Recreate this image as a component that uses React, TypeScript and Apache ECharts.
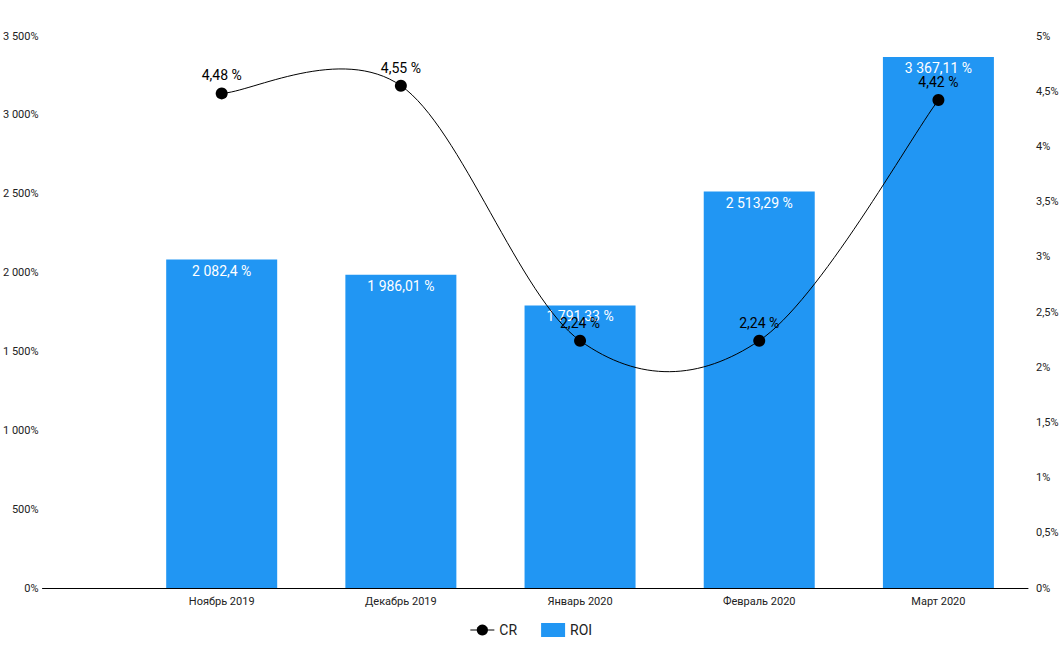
import React, { useEffect, useRef } from "react";
import * as echarts from "echarts";

const categories = ["Ноябрь 2019", "Декабрь 2019", "Январь 2020", "Февраль 2020", "Март 2020"];
const roiValues = [2082.4, 1986.01, 1791.33, 2513.29, 3367.11];
const crValues = [4.48, 4.55, 2.24, 2.24, 4.42];

const fmtNum = (v: number) => {
  const parts = String(v).split(".");
  const int = parts[0].replace(/\B(?=(\d{3})+(?!\d))/g, " ");
  return parts[1] ? int + "," + parts[1] : int;
};

export default function App() {
  const ref = useRef<HTMLDivElement>(null);
  useEffect(() => {
    if (!ref.current) return;
    document.body.style.margin = "0";
    const chart = echarts.init(ref.current, null, { renderer: "svg" });
    const font = "Roboto";
    chart.setOption({
      animation: false,
      textStyle: { fontFamily: font },
      grid: { left: 42, right: 34, top: 36, bottom: 79, containLabel: false },
      legend: {
        bottom: 25,
        left: "center",
        itemGap: 24,
        itemWidth: 24,
        itemHeight: 14,
        textStyle: { fontSize: 14, color: "#222", fontFamily: font },
        data: [
          { name: "CR", lineStyle: { width: 1, color: "#000", opacity: 1 } },
          { name: "ROI", icon: "rect", itemWidth: 26 },
        ],
      },
      xAxis: {
        type: "value",
        min: -1,
        max: 4.5,
        interval: 1,
        splitLine: { show: false },
        axisTick: { show: false },
        axisLine: { show: true, onZero: false, lineStyle: { color: "#000", width: 1 } },
        axisLabel: {
          fontSize: 11,
          color: "#222",
          margin: 8,
          showMaxLabel: false,
          formatter: (v: number) => (Number.isInteger(v) && v >= 0 && v < categories.length ? categories[v] : ""),
        },
      },
      yAxis: [
        {
          type: "value",
          min: 0,
          max: 3500,
          interval: 500,
          splitLine: { show: false },
          axisLine: { show: false },
          axisTick: { show: false },
          axisLabel: { fontSize: 11, color: "#222", margin: 4, formatter: (v: number) => fmtNum(v) + "%" },
        },
        {
          type: "value",
          min: 0,
          max: 5,
          interval: 0.5,
          splitLine: { show: false },
          axisLine: { show: false },
          axisTick: { show: false },
          axisLabel: { fontSize: 11, color: "#222", margin: 8, formatter: (v: number) => fmtNum(v) + "%" },
        },
      ],
      series: [
        {
          name: "ROI",
          type: "bar",
          yAxisIndex: 0,
          barWidth: 111,
          itemStyle: { color: "#2196F3" },
          label: {
            show: true,
            position: "insideTop",
            distance: 4,
            color: "#fff",
            fontSize: 14,
            fontFamily: font,
            formatter: (p: any) => fmtNum(p.value[1]) + " %",
          },
          data: roiValues.map((v, i) => [i, v]),
          z: 2,
        },
        {
          name: "CR curve",
          type: "custom",
          yAxisIndex: 1,
          silent: true,
          z: 3,
          data: crValues.map((v, i) => [i, v]),
          renderItem: (params: any, api: any) => {
            if (params.dataIndex !== 0) return null;
            const pts = crValues.map((v, i) => api.coord([i, v]));
            const n = pts.length;
            let d = `M${pts[0][0]},${pts[0][1]}`;
            for (let i = 0; i < n - 1; i++) {
              const p0 = pts[Math.max(0, i - 1)];
              const p1 = pts[i];
              const p2 = pts[i + 1];
              const p3 = pts[Math.min(n - 1, i + 2)];
              const c1x = p1[0] + (p2[0] - p0[0]) / 6;
              const c1y = p1[1] + (p2[1] - p0[1]) / 6;
              const c2x = p2[0] - (p3[0] - p1[0]) / 6;
              const c2y = p2[1] - (p3[1] - p1[1]) / 6;
              d += ` C${c1x},${c1y} ${c2x},${c2y} ${p2[0]},${p2[1]}`;
            }
            return {
              type: "path",
              shape: { pathData: d },
              style: { fill: "none", stroke: "#000", lineWidth: 1 },
            };
          },
        },
        {
          name: "CR",
          type: "line",
          yAxisIndex: 1,
          symbol: "circle",
          symbolSize: 12,
          lineStyle: { color: "#000", width: 0 },
          itemStyle: { color: "#000" },
          label: {
            show: true,
            position: "top",
            distance: 5,
            color: "#000",
            fontSize: 14,
            fontFamily: font,
            formatter: (p: any) => fmtNum(p.value[1]) + " %",
          },
          data: crValues.map((v, i) => [i, v]),
          z: 4,
        },
      ],
    });
    return () => chart.dispose();
  }, []);
  return <div ref={ref} style={{ width: 1062, height: 667 }} />;
}
